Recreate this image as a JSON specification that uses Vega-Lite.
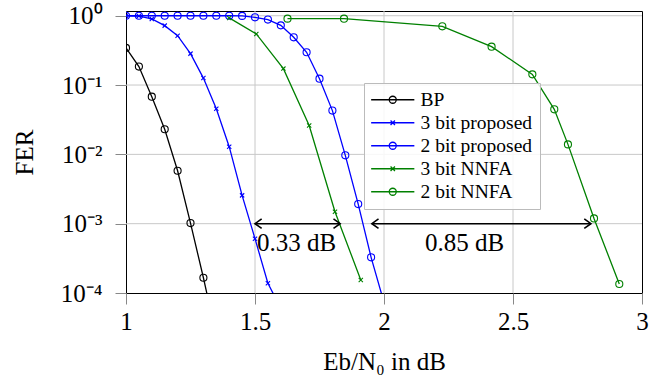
{
  "$schema": "https://vega.github.io/schema/vega-lite/v6.json",
  "width": 516,
  "height": 282,
  "autosize": {"type": "none"},
  "padding": {"left": 126, "top": 11, "right": 24, "bottom": 87},
  "background": "white",
  "config": {
    "font": "Liberation Serif, Times New Roman, serif",
    "view": {"stroke": "black", "strokeWidth": 1},
    "axis": {
      "labelFont": "Liberation Serif, Times New Roman, serif",
      "labelFontSize": 25,
      "labelColor": "black",
      "titleFont": "Liberation Serif, Times New Roman, serif",
      "titleFontSize": 25,
      "titleFontWeight": "normal",
      "titleColor": "black",
      "tickColor": "#888888",
      "tickSize": 11,
      "tickWidth": 1,
      "grid": false,
      "domain": false,
      "labelFlush": false,
      "labelOverlap": false
    },
    "legend": {
      "orient": "none",
      "legendX": 238,
      "legendY": 72,
      "padding": 7,
      "fillColor": "rgba(255,255,255,0.85)",
      "strokeColor": "#bbbbbb",
      "labelFont": "Liberation Serif, Times New Roman, serif",
      "labelFontSize": 19.5,
      "labelColor": "black",
      "labelLimit": 0,
      "symbolSize": 64,
      "symbolStrokeWidth": 1.3,
      "rowPadding": 2,
      "labelOffset": 30
    }
  },
  "datasets": {
    "fer": [
      {"series": "BP", "snr": 1.0, "fer": 0.343},
      {"series": "BP", "snr": 1.05, "fer": 0.1845},
      {"series": "BP", "snr": 1.1, "fer": 0.068},
      {"series": "BP", "snr": 1.15, "fer": 0.023},
      {"series": "BP", "snr": 1.2, "fer": 0.0058},
      {"series": "BP", "snr": 1.25, "fer": 0.00102},
      {"series": "BP", "snr": 1.3, "fer": 0.000166},
      {"series": "BP", "snr": 1.35, "fer": 0.000024},
      {"series": "3 bit proposed", "snr": 1.0, "fer": 0.998},
      {"series": "3 bit proposed", "snr": 1.05, "fer": 0.99},
      {"series": "3 bit proposed", "snr": 1.1, "fer": 0.9},
      {"series": "3 bit proposed", "snr": 1.15, "fer": 0.72},
      {"series": "3 bit proposed", "snr": 1.2, "fer": 0.516},
      {"series": "3 bit proposed", "snr": 1.25, "fer": 0.284},
      {"series": "3 bit proposed", "snr": 1.3, "fer": 0.126},
      {"series": "3 bit proposed", "snr": 1.35, "fer": 0.0456},
      {"series": "3 bit proposed", "snr": 1.4, "fer": 0.0129},
      {"series": "3 bit proposed", "snr": 1.45, "fer": 0.00256},
      {"series": "3 bit proposed", "snr": 1.5, "fer": 0.000608},
      {"series": "3 bit proposed", "snr": 1.55, "fer": 0.000138},
      {"series": "3 bit proposed", "snr": 1.6, "fer": 0.00006},
      {"series": "2 bit proposed", "snr": 1.0, "fer": 1.0},
      {"series": "2 bit proposed", "snr": 1.05, "fer": 1.0},
      {"series": "2 bit proposed", "snr": 1.1, "fer": 1.0},
      {"series": "2 bit proposed", "snr": 1.15, "fer": 1.0},
      {"series": "2 bit proposed", "snr": 1.2, "fer": 1.0},
      {"series": "2 bit proposed", "snr": 1.25, "fer": 1.0},
      {"series": "2 bit proposed", "snr": 1.3, "fer": 1.0},
      {"series": "2 bit proposed", "snr": 1.35, "fer": 1.0},
      {"series": "2 bit proposed", "snr": 1.4, "fer": 1.0},
      {"series": "2 bit proposed", "snr": 1.45, "fer": 0.995},
      {"series": "2 bit proposed", "snr": 1.5, "fer": 0.948},
      {"series": "2 bit proposed", "snr": 1.55, "fer": 0.88},
      {"series": "2 bit proposed", "snr": 1.6, "fer": 0.726},
      {"series": "2 bit proposed", "snr": 1.65, "fer": 0.488},
      {"series": "2 bit proposed", "snr": 1.7, "fer": 0.297},
      {"series": "2 bit proposed", "snr": 1.75, "fer": 0.1236},
      {"series": "2 bit proposed", "snr": 1.8, "fer": 0.0428},
      {"series": "2 bit proposed", "snr": 1.85, "fer": 0.00968},
      {"series": "2 bit proposed", "snr": 1.9, "fer": 0.00192},
      {"series": "2 bit proposed", "snr": 1.95, "fer": 0.000327},
      {"series": "2 bit proposed", "snr": 2.0, "fer": 0.000073},
      {"series": "3 bit NNFA", "snr": 1.4, "fer": 0.93},
      {"series": "3 bit NNFA", "snr": 1.505, "fer": 0.546},
      {"series": "3 bit NNFA", "snr": 1.61, "fer": 0.1726},
      {"series": "3 bit NNFA", "snr": 1.71, "fer": 0.026},
      {"series": "3 bit NNFA", "snr": 1.81, "fer": 0.00149},
      {"series": "3 bit NNFA", "snr": 1.91, "fer": 0.000154},
      {"series": "2 bit NNFA", "snr": 1.626, "fer": 0.908},
      {"series": "2 bit NNFA", "snr": 1.845, "fer": 0.906},
      {"series": "2 bit NNFA", "snr": 2.226, "fer": 0.703},
      {"series": "2 bit NNFA", "snr": 2.417, "fer": 0.358},
      {"series": "2 bit NNFA", "snr": 2.575, "fer": 0.1426},
      {"series": "2 bit NNFA", "snr": 2.66, "fer": 0.0446},
      {"series": "2 bit NNFA", "snr": 2.713, "fer": 0.01393},
      {"series": "2 bit NNFA", "snr": 2.814, "fer": 0.00119},
      {"series": "2 bit NNFA", "snr": 2.912, "fer": 0.000135}
    ],
    "gridX": [{"snr": 1.5}, {"snr": 2}, {"snr": 2.5}],
    "gridY": [{"fer": 1}, {"fer": 0.1}, {"fer": 0.01}, {"fer": 0.001}],
    "gaps": [
      {"from": 1.5, "to": 1.83, "at": 0.001, "label": "0.33 dB", "lx": 1.661, "ly": 0.0004},
      {"from": 1.953, "to": 2.802, "at": 0.001, "label": "0.85 dB", "lx": 2.312, "ly": 0.0004}
    ]
  },
  "layer": [
    {
      "data": {"name": "gridX"},
      "mark": {"type": "rule", "color": "#c8c8c8", "strokeWidth": 1},
      "encoding": {"x": {"field": "snr", "type": "quantitative", "title": "Eb/N₀ in dB"}}
    },
    {
      "data": {"name": "gridY"},
      "mark": {"type": "rule", "color": "#c8c8c8", "strokeWidth": 1},
      "encoding": {"y": {"field": "fer", "type": "quantitative", "title": "FER"}}
    },
    {
      "data": {"name": "fer"},
      "mark": {"type": "line", "strokeWidth": 1.3, "clip": true},
      "encoding": {
        "x": {
          "field": "snr",
          "type": "quantitative",
          "title": "Eb/N₀ in dB",
          "scale": {"domain": [1, 3], "nice": false, "zero": false},
          "axis": {
            "values": [1, 1.5, 2, 2.5, 3],
            "format": "~g",
            "labelPadding": 5,
            "titleY": 76,
            "titleBaseline": "alphabetic"
          }
        },
        "y": {
          "field": "fer",
          "type": "quantitative",
          "title": "FER",
          "scale": {"type": "log", "domain": [0.0001, 1.17], "nice": false},
          "axis": {
            "values": [0.0001, 0.001, 0.01, 0.1, 1],
            "labelPadding": 13,
            "labelExpr": "datum.value >= 0.5 ? '10⁰' : datum.value >= 0.05 ? '10⁻¹' : datum.value >= 0.005 ? '10⁻²' : datum.value >= 0.0005 ? '10⁻³' : '10⁻⁴'",
            "titleX": -94,
            "titleY": 141,
            "titleAngle": 270,
            "titleAlign": "center",
            "titleBaseline": "alphabetic"
          }
        },
        "color": {
          "field": "series",
          "type": "nominal",
          "scale": {
            "domain": ["BP", "3 bit proposed", "2 bit proposed", "3 bit NNFA", "2 bit NNFA"],
            "range": ["#000000", "#0000ff", "#0000ff", "#008000", "#008000"]
          },
          "legend": {
            "title": null,
            "labelFont": "Liberation Serif, Times New Roman, serif",
            "labelFontSize": 19.5,
            "symbolType": "M-2.4,0L8.4,0",
            "encode": {
              "symbols": {
                "update": {
                  "shape": {"signal": "datum.value == 'BP' || indexof(datum.value, '2 bit') == 0 ? 'M-2.4,0L8.4,0M3.875,0A0.875,0.875,0,1,1,2.125,0A0.875,0.875,0,1,1,3.875,0' : 'M-2.4,0L8.4,0M2.45,-0.55L3.55,0.55M2.45,0.55L3.55,-0.55'"},
                  "fill": {"value": "transparent"},
                  "strokeWidth": {"value": 1.3}
                }
              }
            }
          }
        }
      }
    },
    {
      "data": {"name": "fer"},
      "transform": [{"filter": "datum.series == 'BP' || indexof(datum.series, '2 bit') == 0"}],
      "mark": {"type": "point", "shape": "circle", "filled": false, "size": 50, "strokeWidth": 1.1, "opacity": 1, "clip": true},
      "encoding": {
        "x": {"field": "snr", "type": "quantitative", "title": "Eb/N₀ in dB"},
        "y": {"field": "fer", "type": "quantitative", "title": "FER"},
        "color": {"field": "series", "type": "nominal"}
      }
    },
    {
      "data": {"name": "fer"},
      "transform": [{"filter": "indexof(datum.series, '3 bit') == 0"}],
      "mark": {"type": "point", "shape": "M-0.6,-0.6L0.6,0.6M0.6,-0.6L-0.6,0.6", "filled": false, "size": 50, "strokeWidth": 1.1, "opacity": 1, "clip": true},
      "encoding": {
        "x": {"field": "snr", "type": "quantitative", "title": "Eb/N₀ in dB"},
        "y": {"field": "fer", "type": "quantitative", "title": "FER"},
        "color": {"field": "series", "type": "nominal"}
      }
    },
    {
      "data": {"name": "gaps"},
      "mark": {"type": "rule", "strokeWidth": 1.6, "color": "black"},
      "encoding": {
        "x": {"field": "from", "type": "quantitative", "title": "Eb/N₀ in dB"},
        "x2": {"field": "to"},
        "y": {"field": "at", "type": "quantitative", "title": "FER"}
      }
    },
    {
      "data": {"name": "gaps"},
      "mark": {"type": "point", "shape": "M1.4,-1L0,0L1.4,1", "size": 90, "filled": false, "strokeWidth": 1.6, "color": "black", "opacity": 1},
      "encoding": {
        "x": {"field": "from", "type": "quantitative", "title": "Eb/N₀ in dB"},
        "y": {"field": "at", "type": "quantitative", "title": "FER"}
      }
    },
    {
      "data": {"name": "gaps"},
      "mark": {"type": "point", "shape": "M-1.4,-1L0,0L-1.4,1", "size": 90, "filled": false, "strokeWidth": 1.6, "color": "black", "opacity": 1},
      "encoding": {
        "x": {"field": "to", "type": "quantitative", "title": "Eb/N₀ in dB"},
        "y": {"field": "at", "type": "quantitative", "title": "FER"}
      }
    },
    {
      "data": {"name": "gaps"},
      "mark": {"type": "text", "fontSize": 25, "font": "Liberation Serif, Times New Roman, serif", "align": "center", "baseline": "alphabetic", "color": "black"},
      "encoding": {
        "x": {"field": "lx", "type": "quantitative", "title": "Eb/N₀ in dB"},
        "y": {"field": "ly", "type": "quantitative", "title": "FER"},
        "text": {"field": "label"}
      }
    }
  ]
}
